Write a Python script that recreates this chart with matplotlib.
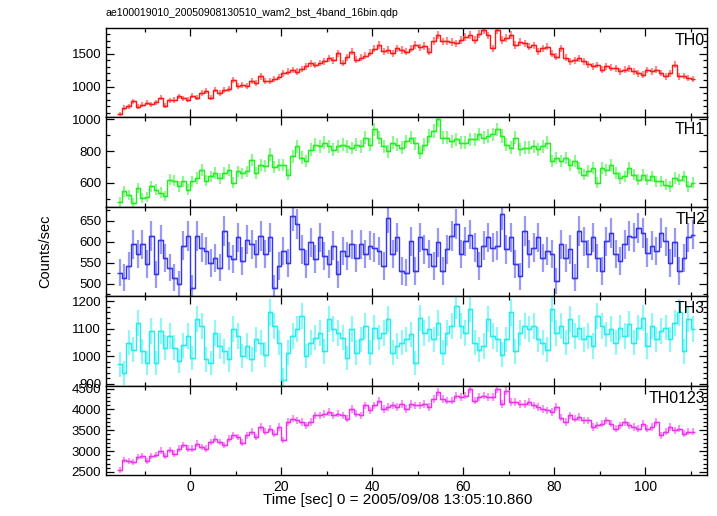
import numpy as np
import matplotlib
matplotlib.use("Agg")
import matplotlib.pyplot as plt
from matplotlib.ticker import MultipleLocator

# ---------------- data (counts/sec, 1-s bins) ----------------
t_start = -15.5          # centre of first bin [s]
bin_width = 1.0          # s
exposure = 0.5           # s, used for Poisson error bars

th0 = [580, 680, 700, 775, 690, 720, 755, 730, 760, 830,
       710, 790, 795, 850, 820, 800, 860, 830, 900, 930,
       830, 955, 905, 945, 960, 1100, 1005, 1030, 1010, 1080,
       1060, 1155, 1080, 1085, 1120, 1150, 1200, 1230, 1255, 1230,
       1270, 1310, 1355, 1330, 1360, 1385, 1430, 1400, 1510, 1360,
       1450, 1535, 1410, 1440, 1470, 1520, 1580, 1636, 1540, 1560,
       1510, 1585, 1560, 1535, 1580, 1636, 1600, 1620, 1535, 1700,
       1787, 1690, 1700, 1680, 1660, 1711, 1760, 1787, 1711, 1800,
       1863, 1780, 1585, 1863, 1711, 1740, 1787, 1636, 1680, 1660,
       1610, 1630, 1540, 1585, 1610, 1503, 1459, 1585, 1440, 1384,
       1400, 1430, 1384, 1340, 1308, 1330, 1257, 1308, 1290, 1280,
       1232, 1260, 1280, 1232, 1200, 1182, 1250, 1232, 1260, 1210,
       1156, 1200, 1333, 1156, 1160, 1131, 1120]

th1 = [480, 547, 526, 473, 568, 505, 510, 579, 558, 540,
       516, 621, 615, 579, 610, 558, 612, 631, 684, 615,
       642, 663, 630, 663, 684, 600, 673, 660, 673, 747,
       663, 716, 705, 779, 700, 716, 716, 652, 768, 832,
       760, 737, 810, 842, 832, 853, 830, 810, 832, 842,
       832, 820, 842, 832, 885, 842, 937, 885, 830, 800,
       853, 842, 821, 863, 885, 850, 790, 842, 895, 927,
       1000, 885, 885, 863, 874, 853, 853, 874, 874, 906,
       885, 895, 906, 937, 895, 842, 821, 885, 811, 821,
       821, 832, 811, 830, 853, 737, 758, 737, 758, 716,
       737, 695, 653, 674, 695, 600, 695, 684, 716, 663,
       632, 642, 695, 653, 621, 653, 621, 642, 610, 610,
       589, 579, 632, 621, 642, 578, 600]

th2 = [526, 514, 542, 594, 570, 594, 546, 613, 522, 605,
       562, 538, 514, 498, 590, 613, 490, 613, 586, 578,
       550, 562, 538, 625, 566, 558, 610, 554, 605, 594,
       570, 613, 570, 610, 490, 542, 578, 550, 661, 641,
       582, 546, 598, 558, 610, 566, 546, 590, 522, 578,
       566, 594, 562, 594, 570, 590, 586, 578, 542, 657,
       570, 610, 530, 526, 601, 530, 610, 582, 570, 542,
       598, 530, 582, 613, 641, 570, 601, 617, 586, 542,
       590, 610, 586, 590, 665, 582, 610, 546, 518, 625,
       570, 586, 610, 562, 578, 570, 506, 594, 562, 582,
       514, 625, 601, 570, 610, 562, 530, 601, 621, 570,
       554, 594, 613, 610, 633, 621, 574, 590, 578, 621,
       601, 550, 598, 530, 562, 610, 617]

th3 = [970, 939, 1049, 1024, 1122, 1018, 976, 1091, 976, 1091,
       1030, 1073, 1030, 982, 1040, 1073, 994, 1134, 1110, 988,
       976, 1085, 1037, 1018, 988, 1098, 1073, 1000, 1037, 988,
       1061, 1049, 1006, 1159, 1110, 1049, 915, 1012, 1073, 1098,
       1146, 1000, 1049, 1067, 1085, 1018, 1134, 1098, 1085, 1067,
       994, 1098, 1012, 1061, 1110, 1012, 1104, 1067, 1085, 1134,
       1012, 1037, 1049, 1061, 1079, 976, 1140, 1085, 1098, 1061,
       1122, 1012, 1085, 1110, 1183, 1110, 1085, 1171, 1049, 1024,
       1037, 1134, 1073, 1061, 1006, 1061, 1159, 1018, 1085, 1110,
       1098, 1110, 1061, 1049, 1024, 1171, 1085, 1110, 1049, 1134,
       1073, 1104, 1061, 1073, 1037, 1146, 1110, 1079, 1098, 1049,
       1104, 1073, 1116, 1049, 1104, 1140, 1037, 1110, 1061, 1091,
       1104, 1061, 1122, 1159, 1018, 1134, 1098]

th0123 = [2548, 2785, 2770, 2746, 2860, 2880, 2760, 2890, 2905, 3010,
          2890, 3030, 2940, 3062, 3143, 3062, 3062, 3180, 3100, 3062,
          3222, 3300, 3222, 3143, 3300, 3381, 3340, 3200, 3381, 3460,
          3340, 3579, 3460, 3539, 3420, 3579, 3270, 3698, 3777, 3737,
          3698, 3619, 3698, 3857, 3857, 3890, 3936, 3857, 3897, 3857,
          3777, 4015, 3897, 3857, 4095, 3976, 4095, 4213, 4015, 4055,
          4095, 4055, 4134, 4015, 4134, 4095, 4095, 4134, 4055, 4253,
          4411, 4253, 4213, 4213, 4333, 4293, 4333, 4490, 4213, 4293,
          4333, 4300, 4293, 4490, 4134, 4450, 4174, 4174, 4134, 4134,
          4174, 4095, 4055, 4015, 3976, 3936, 4055, 3800, 3698, 3857,
          3777, 3817, 3737, 3737, 3579, 3619, 3658, 3737, 3658, 3539,
          3619, 3698, 3619, 3579, 3539, 3658, 3539, 3579, 3698, 3381,
          3460, 3579, 3500, 3539, 3420, 3460, 3460]

labels = ["TH0", "TH1", "TH2", "TH3", "TH0123"]
series = [th0, th1, th2, th3, th0123]
colors = ["#ff1a1a", "#22ee22", "#3535ee", "#22eeee", "#ee33ee"]
ylims = [(530, 1894), (450, 1013), (470, 683), (893, 1218), (2428, 4572)]
ymajor = [500, 200, 50, 100, 500]
yminor = [100, 100, 25, 20, 100]

title = "ae100019010_20050908130510_wam2_bst_4band_16bin.qdp"
xlabel = "Time [sec] 0 = 2005/09/08 13:05:10.860"
ylabel = "Counts/sec"

# ---------------- figure ----------------
plt.rcParams["font.family"] = ["Liberation Sans", "DejaVu Sans"]
W, H = 717, 516
fig = plt.figure(figsize=(W / 100, H / 100), dpi=100)
left, right = 106 / W, 707 / W
top, bottom = 1 - 28 / H, 1 - 475 / H
gs = fig.add_gridspec(5, 1, left=left, right=right, top=top, bottom=bottom, hspace=0)

axes = []
for i, (name, vals, col) in enumerate(zip(labels, series, colors)):
    ax = fig.add_subplot(gs[i, 0], sharex=axes[0] if axes else None)
    axes.append(ax)
    v = np.asarray(vals, dtype=float)
    t = t_start + bin_width * np.arange(len(v))
    err = np.sqrt(v / exposure)
    ax.vlines(t, v - err, v + err, color=col, alpha=0.5, lw=1.6)
    ax.step(t, v, where="mid", color=col, lw=1.0)
    ax.hlines(v, t - bin_width / 2, t + bin_width / 2, color=col, lw=1.0)
    ax.set_ylim(*ylims[i])
    ax.set_xlim(-18.5, 113.6)
    ax.yaxis.set_major_locator(MultipleLocator(ymajor[i]))
    ax.yaxis.set_minor_locator(MultipleLocator(yminor[i]))
    ax.xaxis.set_major_locator(MultipleLocator(20))
    ax.xaxis.set_minor_locator(MultipleLocator(10))
    ax.tick_params(which="both", direction="in", top=True, right=True,
                   labelsize=9.5, width=0.9)
    ax.tick_params(which="major", length=6)
    ax.tick_params(which="minor", length=3)
    for sp in ax.spines.values():
        sp.set_linewidth(1.0)
    if i < 4:
        ax.tick_params(labelbottom=False)
    ax.text(0.997, 0.86, name, transform=ax.transAxes, ha="right", va="center",
            fontsize=11.5)

axes[-1].tick_params(axis="x", labelsize=10)
fig.text(398 / W, 1 - 500 / H, xlabel, ha="center", va="center", fontsize=11)
fig.text(45 / W, 1 - 251 / H, ylabel, rotation=90, ha="center", va="center",
         fontsize=10.5)
fig.text(left, 1 - 13 / H, title, ha="left", va="center", fontsize=7.6)

fig.savefig("out.png", dpi=100)
